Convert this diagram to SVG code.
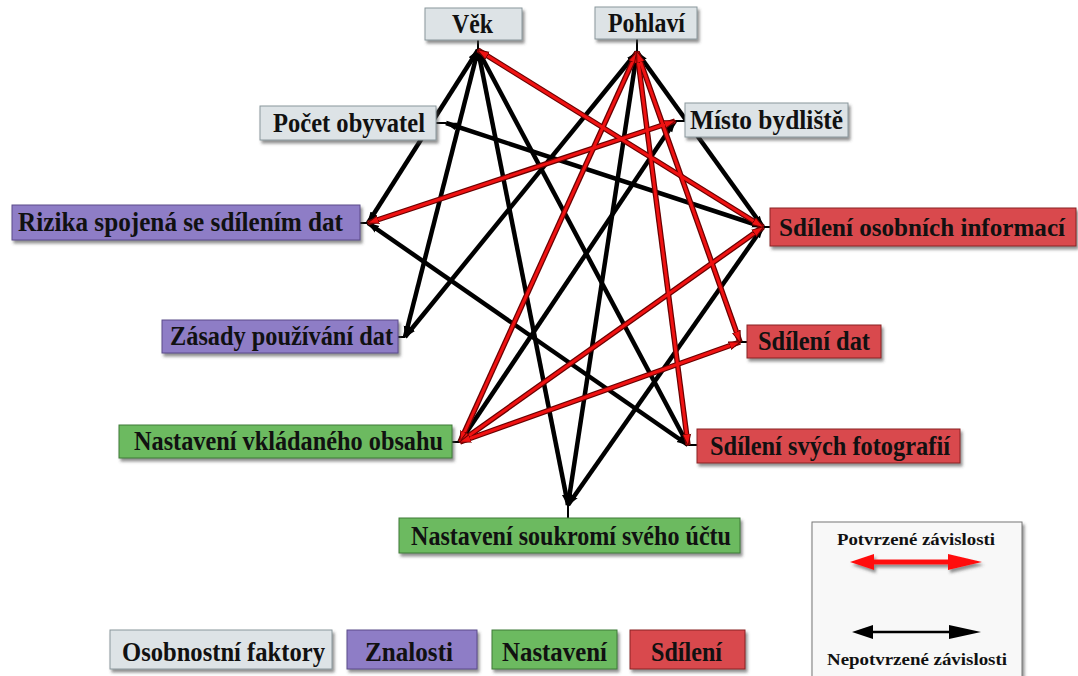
<svg xmlns="http://www.w3.org/2000/svg" width="1078" height="676" viewBox="0 0 1078 676">
<style>
.t{font-family:"Liberation Serif","Times New Roman",serif;font-weight:bold;font-size:27px;fill:#111}
.ts{font-family:"Liberation Serif","Times New Roman",serif;font-weight:bold;font-size:17px;fill:#111}
.g{fill:#dde3e6;stroke:#8a979c;stroke-width:1}
.p{fill:#8e7dc6;stroke:#5a4c8a;stroke-width:1}
.gr{fill:#6cba60;stroke:#3f7a38;stroke-width:1}
.r{fill:#d9494d;stroke:#8a2326;stroke-width:1}
.bl{fill:none;stroke:#000;stroke-width:4.5;marker-start:url(#ab);marker-end:url(#ab)}
.ro{fill:none;stroke:#6a0000;stroke-width:5.5}
.ri{fill:none;stroke:#f01212;stroke-width:3;marker-start:url(#ar);marker-end:url(#ar)}
.st{stroke:#000;stroke-width:2}
</style>
<defs>
<filter id="sh" x="-10%" y="-20%" width="130%" height="160%">
<feDropShadow dx="2" dy="3" stdDeviation="1.5" flood-color="#444" flood-opacity="0.6"/>
</filter>
<marker id="ab" viewBox="0 0 12 10" markerWidth="12" markerHeight="10" refX="11" refY="5" orient="auto-start-reverse" markerUnits="userSpaceOnUse">
<path d="M0,1 L12,5 L0,9 z" fill="#000"/>
</marker>
<marker id="ar" viewBox="0 0 12 10" markerWidth="12" markerHeight="10" refX="11" refY="5" orient="auto-start-reverse" markerUnits="userSpaceOnUse">
<path d="M0,1 L12,5 L0,9 z" fill="#f01212" stroke="#6a0000" stroke-width="1"/>
</marker>
</defs>
<rect width="1078" height="676" fill="#fff"/>
<g id="connectors">
<g id="stubs">
<line class="st" x1="478" y1="40" x2="478" y2="50"/>
<line class="st" x1="637" y1="39" x2="637" y2="52"/>
<line class="st" x1="436" y1="123" x2="446" y2="123"/>
<line class="st" x1="675" y1="121" x2="685" y2="121"/>
<line class="st" x1="360" y1="223" x2="368" y2="223"/>
<line class="st" x1="763" y1="227" x2="770" y2="227"/>
<line class="st" x1="398" y1="337" x2="405" y2="337"/>
<line class="st" x1="740" y1="342" x2="747" y2="342"/>
<line class="st" x1="452" y1="442" x2="460" y2="442"/>
<line class="st" x1="688" y1="445" x2="697" y2="445"/>
<line class="st" x1="568" y1="505" x2="568" y2="518"/>
</g>
<g id="unconfirmed">
<line class="bl" x1="478" y1="50" x2="368" y2="223"/>
<line class="bl" x1="478" y1="50" x2="405" y2="337"/>
<line class="bl" x1="478" y1="50" x2="568" y2="505"/>
<line class="bl" x1="478" y1="50" x2="688" y2="445"/>
<line class="bl" x1="637" y1="52" x2="405" y2="337"/>
<line class="bl" x1="637" y1="52" x2="568" y2="505"/>
<line class="bl" x1="637" y1="52" x2="763" y2="227"/>
<line class="bl" x1="446" y1="123" x2="763" y2="227"/>
<line class="bl" x1="675" y1="121" x2="460" y2="442"/>
<line class="bl" x1="368" y1="223" x2="688" y2="445"/>
<line class="bl" x1="763" y1="227" x2="568" y2="505"/>
</g>
<g id="confirmed">
<line class="ro" x1="478" y1="50" x2="763" y2="227"/>
<line class="ro" x1="637" y1="52" x2="460" y2="442"/>
<line class="ro" x1="637" y1="52" x2="688" y2="445"/>
<line class="ro" x1="637" y1="52" x2="740" y2="342"/>
<line class="ro" x1="675" y1="121" x2="368" y2="223"/>
<line class="ro" x1="763" y1="227" x2="460" y2="442"/>
<line class="ro" x1="460" y1="442" x2="740" y2="342"/>
<line class="ri" x1="478" y1="50" x2="763" y2="227"/>
<line class="ri" x1="637" y1="52" x2="460" y2="442"/>
<line class="ri" x1="637" y1="52" x2="688" y2="445"/>
<line class="ri" x1="637" y1="52" x2="740" y2="342"/>
<line class="ri" x1="675" y1="121" x2="368" y2="223"/>
<line class="ri" x1="763" y1="227" x2="460" y2="442"/>
<line class="ri" x1="460" y1="442" x2="740" y2="342"/>
</g>
</g>
<g id="node-vek"><rect class="g" x="425" y="8" width="97" height="32" filter="url(#sh)"/><text class="t" x="452" y="33" textLength="41" lengthAdjust="spacingAndGlyphs">Věk</text></g>
<g id="node-pohlavi"><rect class="g" x="595" y="7" width="102" height="32" filter="url(#sh)"/><text class="t" x="608" y="32" textLength="77" lengthAdjust="spacingAndGlyphs">Pohlaví</text></g>
<g id="node-pocet"><rect class="g" x="260" y="106" width="176" height="34" filter="url(#sh)"/><text class="t" x="273" y="132" textLength="152" lengthAdjust="spacingAndGlyphs">Počet obyvatel</text></g>
<g id="node-misto"><rect class="g" x="685" y="103" width="163" height="34" filter="url(#sh)"/><text class="t" x="690" y="129" textLength="153" lengthAdjust="spacingAndGlyphs">Místo bydliště</text></g>
<g id="node-rizika"><rect class="p" x="12" y="205" width="348" height="35" filter="url(#sh)"/><text class="t" x="18" y="231" textLength="325" lengthAdjust="spacingAndGlyphs">Rizika spojená se sdílením dat</text></g>
<g id="node-soi"><rect class="r" x="770" y="208" width="306" height="38" filter="url(#sh)"/><text class="t" x="779" y="236" font-size="25" style="font-size:25px" textLength="286" lengthAdjust="spacingAndGlyphs">Sdílení osobních informací</text></g>
<g id="node-zasady"><rect class="p" x="162" y="320" width="236" height="33" filter="url(#sh)"/><text class="t" x="170" y="345" textLength="223" lengthAdjust="spacingAndGlyphs">Zásady používání dat</text></g>
<g id="node-sdat"><rect class="r" x="747" y="325" width="134" height="33" filter="url(#sh)"/><text class="t" x="758" y="350" textLength="112" lengthAdjust="spacingAndGlyphs">Sdílení dat</text></g>
<g id="node-nvo"><rect class="gr" x="119" y="425" width="333" height="33" filter="url(#sh)"/><text class="t" x="134" y="450" textLength="309" lengthAdjust="spacingAndGlyphs">Nastavení vkládaného obsahu</text></g>
<g id="node-sfoto"><rect class="r" x="697" y="429" width="263" height="34" filter="url(#sh)"/><text class="t" x="710" y="455" textLength="240" lengthAdjust="spacingAndGlyphs">Sdílení svých fotografií</text></g>
<g id="node-nsu"><rect class="gr" x="399" y="518" width="341" height="35" filter="url(#sh)"/><text class="t" x="411" y="545" textLength="320" lengthAdjust="spacingAndGlyphs">Nastavení soukromí svého účtu</text></g>
<g id="legend-categories">
<rect class="g" x="110" y="630" width="222" height="39" filter="url(#sh)"/><text class="t" x="122" y="661" textLength="203" lengthAdjust="spacingAndGlyphs">Osobnostní faktory</text>
<rect class="p" x="347" y="630" width="130" height="39" filter="url(#sh)"/><text class="t" x="365" y="661" textLength="88" lengthAdjust="spacingAndGlyphs">Znalosti</text>
<rect class="gr" x="492" y="630" width="125" height="39" filter="url(#sh)"/><text class="t" x="502" y="661" textLength="105" lengthAdjust="spacingAndGlyphs">Nastavení</text>
<rect class="r" x="630" y="630" width="115" height="39" filter="url(#sh)"/><text class="t" x="651" y="661" textLength="71" lengthAdjust="spacingAndGlyphs">Sdílení</text>
</g>
<g id="legend-lines">
<rect x="812" y="522" width="210" height="170" fill="#f8f8f8" stroke="#777" stroke-width="1" filter="url(#sh)"/>
<text class="ts" x="837" y="545" textLength="158" lengthAdjust="spacingAndGlyphs">Potvrzené závislosti</text>
<g filter="url(#sh)">
<line x1="868" y1="562" x2="952" y2="562" stroke="#ff1010" stroke-width="5"/>
<path d="M850,562 L874,554 L874,570 z M982,562 L948,554 L948,570 z" fill="#ff1010"/>
</g>
<line x1="868" y1="632" x2="965" y2="632" stroke="#000" stroke-width="2.5"/>
<path d="M852,632 L873,625 L873,639 z M981,632 L949,625 L949,639 z" fill="#000"/>
<text class="ts" x="827" y="665" textLength="180" lengthAdjust="spacingAndGlyphs">Nepotvrzené závislosti</text>
</g>
</svg>
